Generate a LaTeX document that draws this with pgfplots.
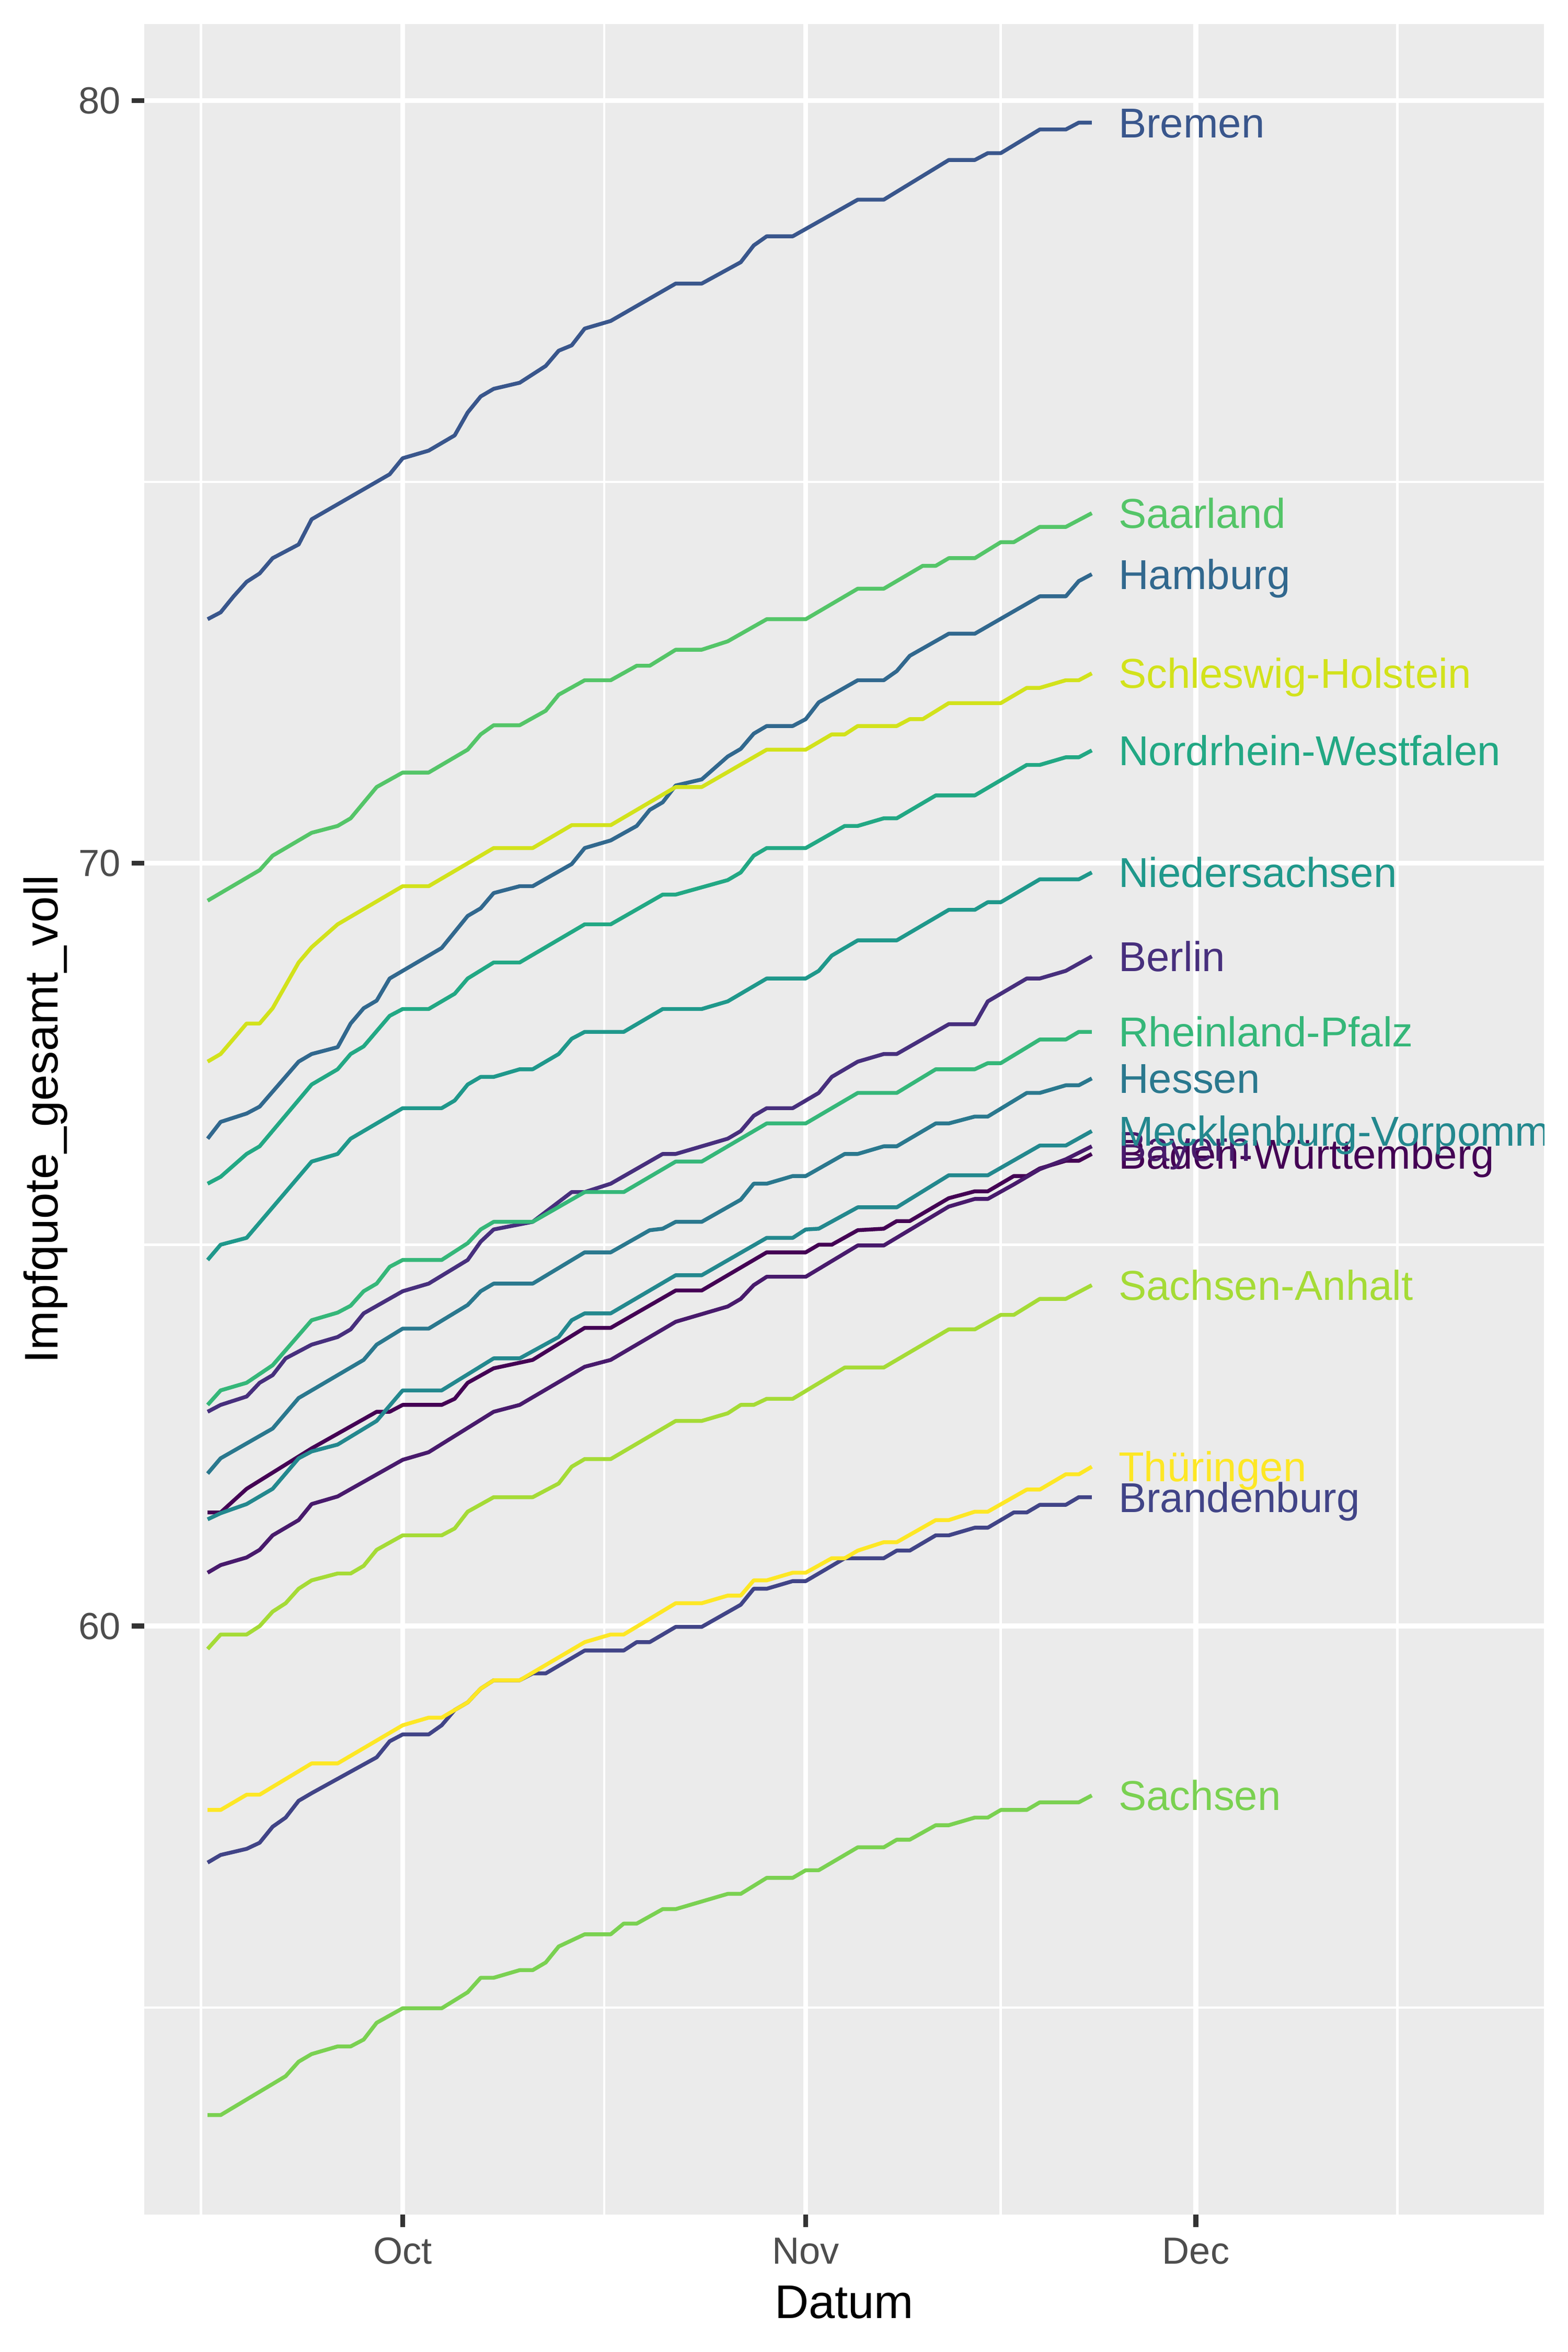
\documentclass[border=0pt]{standalone}
\usepackage{pgfplots}
\pgfplotsset{compat=1.18}
\usepackage{fontspec}
\setmainfont{Liberation Sans}
\definecolor{ggbg}{HTML}{EBEBEB}
\definecolor{gg20}{HTML}{333333}
\definecolor{gg30}{HTML}{4D4D4D}
\definecolor{cBW}{HTML}{440154}
\definecolor{cBY}{HTML}{481A6C}
\definecolor{cBE}{HTML}{472F7D}
\definecolor{cBB}{HTML}{414487}
\definecolor{cHB}{HTML}{39568C}
\definecolor{cHH}{HTML}{31688E}
\definecolor{cHE}{HTML}{2A788E}
\definecolor{cMV}{HTML}{23888E}
\definecolor{cNI}{HTML}{1F988B}
\definecolor{cNW}{HTML}{22A884}
\definecolor{cRP}{HTML}{35B779}
\definecolor{cSL}{HTML}{54C568}
\definecolor{cSN}{HTML}{7AD151}
\definecolor{cST}{HTML}{A5DB36}
\definecolor{cSH}{HTML}{D2E21B}
\definecolor{cTH}{HTML}{FDE725}
\tikzset{
  ggline/.style={line width=1.07bp, line join=round, mark=none},
  gglab/.style={anchor=base west, inner sep=0pt, yshift=-4.12bp, font=\fontsize{11.5bp}{13.5bp}\selectfont},
}
\begin{document}
\begin{tikzpicture}
\useasboundingbox (0,0) rectangle (432bp,648bp);
\begin{axis}[
  at={(39.74bp,37.87bp)}, anchor=south west,
  scale only axis, width=385.66bp, height=603.5bp,
  xmin=-19.875, xmax=87.78, ymin=52.286, ymax=81.0025,
  axis background/.style={fill=ggbg},
  axis line style={draw=none},
  xtick={0,31,61}, xticklabels={Oct,Nov,Dec},
  ytick={60,70,80},
  minor xtick={-15.5,15.5,46,76.5},
  minor ytick={55,65,75},
  grid=both,
  major grid style={draw=white, line width=1.36bp},
  minor grid style={draw=white, line width=0.68bp},
  tick pos=left, tick align=outside,
  major tick length=3.4bp, minor tick length=0pt,
  major tick style={draw=gg20, line width=1.36bp},
  minor tick style={draw=none},
  /pgf/number format/assume math mode=true,
  ticklabel style={font=\fontsize{10.4bp}{12bp}\selectfont, text=gg30, inner sep=0pt},
  xticklabel style={anchor=base, yshift=-10.24bp},
  yticklabel style={anchor=east, xshift=-2.94bp},
  xlabel={Datum},
  ylabel={Impfquote\_gesamt\_voll},
  label style={font=\fontsize{13bp}{15bp}\selectfont, text=black, inner sep=0pt},
  xlabel style={at={(axis description cs:0.5,-0.04741)}, anchor=base},
  ylabel style={at={(axis description cs:-0.06197,0.5)}, anchor=base},
]
% Baden-Wuerttemberg
\addplot[ggline, color=cBW] coordinates {(-15,61.49) (-14,61.49) (-12,61.80) (-7,62.33) (-2,62.81) (-1,62.81) (0,62.90) (3,62.90) (4,62.98) (5,63.19) (7,63.38) (10,63.49) (14,63.91) (16,63.91) (21,64.40) (23,64.40) (28,64.90) (31,64.90) (32,65.00) (33,65.00) (35,65.19) (37,65.21) (38,65.31) (39,65.31) (42,65.61) (44,65.70) (45,65.70) (47,65.90) (48,65.90) (49,66.00) (51,66.10) (52,66.10) (53,66.19)};
% Bayern
\addplot[ggline, color=cBY] coordinates {(-15,60.70) (-14,60.80) (-12,60.90) (-11,61.00) (-10,61.19) (-8,61.39) (-7,61.60) (-5,61.70) (0,62.18) (2,62.28) (7,62.81) (9,62.90) (14,63.40) (16,63.49) (21,63.99) (25,64.19) (26,64.29) (27,64.47) (28,64.58) (31,64.58) (35,64.99) (37,64.99) (42,65.50) (44,65.60) (45,65.60) (47,65.79) (49,65.99) (51,66.12) (53,66.29)};
% Berlin
\addplot[ggline, color=cBE] coordinates {(-15,62.81) (-14,62.90) (-12,63.01) (-11,63.19) (-10,63.29) (-9,63.51) (-7,63.69) (-5,63.79) (-4,63.89) (-3,64.10) (0,64.39) (2,64.49) (5,64.80) (6,65.04) (7,65.20) (10,65.30) (13,65.69) (14,65.69) (16,65.80) (20,66.19) (21,66.19) (25,66.39) (26,66.49) (27,66.69) (28,66.79) (30,66.79) (32,66.99) (33,67.20) (35,67.40) (37,67.50) (38,67.50) (42,67.89) (44,67.89) (45,68.19) (48,68.49) (49,68.49) (51,68.59) (53,68.78)};
% Brandenburg
\addplot[ggline, color=cBB] coordinates {(-15,56.90) (-14,57.00) (-12,57.08) (-11,57.16) (-10,57.37) (-9,57.49) (-8,57.71) (-7,57.81) (-2,58.28) (-1,58.49) (0,58.58) (2,58.58) (3,58.70) (4,58.90) (5,59.00) (6,59.18) (7,59.29) (9,59.29) (10,59.38) (11,59.38) (14,59.68) (17,59.68) (18,59.79) (19,59.79) (21,59.99) (23,59.99) (26,60.28) (27,60.49) (28,60.49) (30,60.59) (31,60.59) (34,60.89) (37,60.89) (38,60.99) (39,60.99) (41,61.19) (42,61.19) (44,61.29) (45,61.29) (47,61.49) (48,61.49) (49,61.59) (51,61.59) (52,61.69) (53,61.69)};
% Bremen
\addplot[ggline, color=cHB] coordinates {(-15,73.20) (-14,73.29) (-13,73.50) (-12,73.69) (-11,73.80) (-10,74.00) (-8,74.18) (-7,74.51) (-1,75.10) (0,75.31) (2,75.41) (4,75.61) (5,75.91) (6,76.12) (7,76.22) (9,76.30) (11,76.52) (12,76.72) (13,76.79) (14,77.01) (16,77.11) (21,77.60) (23,77.60) (26,77.88) (27,78.10) (28,78.22) (30,78.22) (35,78.70) (37,78.70) (42,79.22) (44,79.22) (45,79.31) (46,79.31) (49,79.62) (51,79.62) (52,79.71) (53,79.71)};
% Hamburg
\addplot[ggline, color=cHH] coordinates {(-15,66.39) (-14,66.61) (-12,66.72) (-11,66.81) (-8,67.40) (-7,67.50) (-5,67.59) (-4,67.90) (-3,68.10) (-2,68.20) (-1,68.49) (3,68.89) (5,69.31) (6,69.41) (7,69.61) (9,69.70) (10,69.70) (13,69.99) (14,70.20) (16,70.30) (18,70.49) (19,70.70) (20,70.80) (21,71.02) (23,71.10) (25,71.40) (26,71.50) (27,71.70) (28,71.80) (30,71.80) (31,71.89) (32,72.11) (35,72.40) (37,72.40) (38,72.52) (39,72.72) (42,73.01) (44,73.01) (49,73.50) (51,73.50) (52,73.70) (53,73.79)};
% Hessen
\addplot[ggline, color=cHE] coordinates {(-15,62.00) (-14,62.20) (-10,62.59) (-8,62.99) (-3,63.49) (-2,63.69) (0,63.90) (2,63.90) (5,64.21) (6,64.39) (7,64.49) (10,64.49) (14,64.90) (16,64.90) (19,65.19) (20,65.21) (21,65.30) (23,65.30) (26,65.59) (27,65.80) (28,65.80) (30,65.90) (31,65.90) (34,66.19) (35,66.19) (37,66.29) (38,66.29) (41,66.59) (42,66.59) (44,66.68) (45,66.68) (48,66.99) (49,66.99) (51,67.09) (52,67.09) (53,67.18)};
% Mecklenburg-Vorpommern
\addplot[ggline, color=cMV] coordinates {(-15,61.40) (-14,61.48) (-12,61.60) (-10,61.80) (-8,62.20) (-7,62.29) (-5,62.38) (-2,62.69) (0,63.09) (3,63.09) (7,63.51) (9,63.51) (12,63.79) (13,64.01) (14,64.10) (16,64.10) (21,64.60) (23,64.60) (28,65.09) (30,65.09) (31,65.20) (32,65.21) (35,65.49) (38,65.49) (42,65.91) (45,65.91) (49,66.30) (51,66.30) (53,66.49)};
% Niedersachsen
\addplot[ggline, color=cNI] coordinates {(-15,64.80) (-14,65.00) (-12,65.09) (-7,66.09) (-5,66.19) (-4,66.39) (0,66.79) (3,66.79) (4,66.89) (5,67.10) (6,67.20) (7,67.20) (9,67.30) (10,67.30) (12,67.50) (13,67.70) (14,67.79) (17,67.79) (20,68.09) (23,68.09) (25,68.19) (28,68.49) (31,68.49) (32,68.59) (33,68.79) (35,68.99) (38,68.99) (42,69.39) (44,69.39) (45,69.49) (46,69.49) (49,69.79) (52,69.79) (53,69.88)};
% Nordrhein-Westfalen
\addplot[ggline, color=cNW] coordinates {(-15,65.80) (-14,65.89) (-12,66.19) (-11,66.29) (-7,67.10) (-5,67.30) (-4,67.50) (-3,67.60) (-1,68.00) (0,68.09) (2,68.09) (4,68.29) (5,68.49) (7,68.70) (9,68.70) (14,69.20) (16,69.20) (20,69.59) (21,69.59) (25,69.78) (26,69.88) (27,70.10) (28,70.20) (31,70.20) (34,70.49) (35,70.49) (37,70.59) (38,70.59) (41,70.89) (44,70.89) (48,71.29) (49,71.29) (51,71.39) (52,71.39) (53,71.48)};
% Rheinland-Pfalz
\addplot[ggline, color=cRP] coordinates {(-15,62.90) (-14,63.09) (-12,63.19) (-10,63.42) (-7,64.01) (-5,64.11) (-4,64.20) (-3,64.39) (-2,64.49) (-1,64.71) (0,64.80) (3,64.80) (5,65.02) (6,65.20) (7,65.30) (10,65.30) (14,65.69) (17,65.69) (21,66.09) (23,66.09) (28,66.59) (31,66.59) (35,66.99) (38,66.99) (41,67.30) (44,67.30) (45,67.38) (46,67.38) (49,67.69) (51,67.69) (52,67.79) (53,67.79)};
% Saarland
\addplot[ggline, color=cSL] coordinates {(-15,69.51) (-11,69.91) (-10,70.10) (-7,70.40) (-5,70.49) (-4,70.59) (-2,71.00) (0,71.19) (2,71.19) (5,71.49) (6,71.69) (7,71.81) (9,71.81) (11,72.00) (12,72.21) (14,72.40) (16,72.40) (18,72.59) (19,72.59) (21,72.80) (23,72.80) (25,72.91) (28,73.20) (31,73.20) (35,73.60) (37,73.60) (40,73.90) (41,73.90) (42,74.00) (44,74.00) (46,74.21) (47,74.21) (49,74.41) (51,74.41) (53,74.59)};
% Sachsen
\addplot[ggline, color=cSN] coordinates {(-15,53.59) (-14,53.59) (-9,54.10) (-8,54.29) (-7,54.39) (-5,54.49) (-4,54.49) (-3,54.58) (-2,54.80) (0,54.99) (3,54.99) (5,55.20) (6,55.39) (7,55.39) (9,55.49) (10,55.49) (11,55.59) (12,55.80) (14,55.96) (16,55.96) (17,56.10) (18,56.10) (20,56.29) (21,56.29) (25,56.49) (26,56.49) (28,56.70) (30,56.70) (31,56.80) (32,56.80) (35,57.10) (37,57.10) (38,57.20) (39,57.20) (41,57.39) (42,57.39) (44,57.49) (45,57.49) (46,57.59) (48,57.59) (49,57.69) (52,57.69) (53,57.78)};
% Sachsen-Anhalt
\addplot[ggline, color=cST] coordinates {(-15,59.70) (-14,59.89) (-12,59.89) (-11,60.00) (-10,60.19) (-9,60.30) (-8,60.49) (-7,60.60) (-5,60.69) (-4,60.69) (-3,60.79) (-2,61.00) (0,61.19) (3,61.19) (4,61.28) (5,61.50) (7,61.69) (10,61.69) (12,61.87) (13,62.09) (14,62.19) (16,62.19) (21,62.69) (23,62.69) (25,62.79) (26,62.90) (27,62.90) (28,62.98) (30,62.98) (34,63.39) (37,63.39) (42,63.89) (44,63.89) (46,64.08) (47,64.08) (49,64.29) (51,64.29) (53,64.47)};
% Schleswig-Holstein
\addplot[ggline, color=cSH] coordinates {(-15,67.40) (-14,67.50) (-12,67.90) (-11,67.90) (-10,68.10) (-8,68.70) (-7,68.90) (-5,69.20) (0,69.70) (2,69.70) (7,70.20) (10,70.20) (13,70.50) (16,70.50) (21,71.00) (23,71.00) (28,71.49) (31,71.49) (33,71.69) (34,71.69) (35,71.80) (38,71.80) (39,71.89) (40,71.89) (42,72.10) (46,72.10) (48,72.30) (49,72.30) (51,72.40) (52,72.40) (53,72.49)};
% Thueringen
\addplot[ggline, color=cTH] coordinates {(-15,57.59) (-14,57.59) (-12,57.79) (-11,57.79) (-7,58.20) (-5,58.20) (0,58.70) (2,58.80) (3,58.80) (5,59.00) (6,59.18) (7,59.29) (9,59.29) (14,59.79) (16,59.89) (17,59.89) (21,60.30) (23,60.30) (25,60.40) (26,60.40) (27,60.60) (28,60.60) (30,60.70) (31,60.70) (33,60.89) (34,60.89) (35,60.99) (37,61.10) (38,61.10) (41,61.39) (42,61.39) (44,61.50) (45,61.50) (48,61.79) (49,61.79) (51,61.99) (52,61.99) (53,62.09)};
% labels
\node[gglab, text=cBW] at (axis cs:55,66.19) {Baden-Württemberg};
\node[gglab, text=cBY] at (axis cs:55,66.29) {Bayern};
\node[gglab, text=cBE] at (axis cs:55,68.78) {Berlin};
\node[gglab, text=cBB] at (axis cs:55,61.69) {Brandenburg};
\node[gglab, text=cHB] at (axis cs:55,79.71) {Bremen};
\node[gglab, text=cHH] at (axis cs:55,73.79) {Hamburg};
\node[gglab, text=cHE] at (axis cs:55,67.18) {Hessen};
\node[gglab, text=cMV] at (axis cs:55,66.49) {Mecklenburg-Vorpommern};
\node[gglab, text=cNI] at (axis cs:55,69.88) {Niedersachsen};
\node[gglab, text=cNW] at (axis cs:55,71.48) {Nordrhein-Westfalen};
\node[gglab, text=cRP] at (axis cs:55,67.79) {Rheinland-Pfalz};
\node[gglab, text=cSL] at (axis cs:55,74.59) {Saarland};
\node[gglab, text=cSN] at (axis cs:55,57.78) {Sachsen};
\node[gglab, text=cST] at (axis cs:55,64.47) {Sachsen-Anhalt};
\node[gglab, text=cSH] at (axis cs:55,72.49) {Schleswig-Holstein};
\node[gglab, text=cTH] at (axis cs:55,62.09) {Thüringen};
\end{axis}
\end{tikzpicture}
\end{document}
